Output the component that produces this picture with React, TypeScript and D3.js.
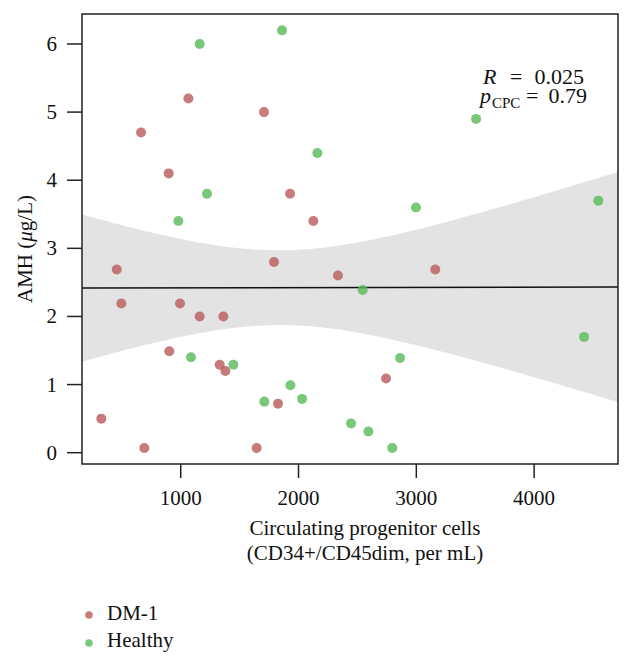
import React from "react";
import * as d3 from "d3";

const dmX = [1065, 1707, 663, 898, 1928, 2126, 457, 1792, 496, 994, 1161, 1362, 903, 1331, 1379, 1826, 326, 691, 1645, 2335, 3161, 2743];
const dmY = [5.2, 5.0, 4.7, 4.1, 3.8, 3.4, 2.69, 2.8, 2.19, 2.19, 2.0, 2.0, 1.49, 1.29, 1.2, 0.72, 0.5, 0.07, 0.07, 2.6, 2.69, 1.09];
const hX = [1161, 1860, 1223, 980, 2160, 3507, 2997, 4545, 1087, 1447, 1931, 1710, 2030, 2545, 4424, 2862, 2446, 2593, 2796];
const hY = [6.0, 6.2, 3.8, 3.4, 4.4, 4.9, 3.6, 3.7, 1.4, 1.29, 0.99, 0.75, 0.79, 2.39, 1.7, 1.39, 0.43, 0.31, 0.07];
const xTicks = [1000, 2000, 3000, 4000];
const yTicks = [0, 1, 2, 3, 4, 5, 6];
const groups = ["DM-1", "Healthy"];
const colors = ["#b95a5a", "#58b958"];

const W = 633, H = 666;
const L = 82, R = 618, T = 14, B = 464;
const FONT = "'Liberation Serif', 'DejaVu Serif', serif";

export default function App() {
  const x = d3.scaleLinear().domain([162, 4712]).range([L, R]);
  const y = d3.scaleLinear().domain([-0.166, 6.44]).range([B, T]);

  const allX = [...dmX, ...hX];
  const allY = [...dmY, ...hY];
  const n = allX.length;
  const mx = d3.mean(allX)!;
  const my = d3.mean(allY)!;
  let sxx = 0, sxy = 0;
  for (let i = 0; i < n; i++) {
    sxx += (allX[i] - mx) ** 2;
    sxy += (allX[i] - mx) * (allY[i] - my);
  }
  const slope = sxy / sxx;
  const icpt = my - slope * mx;
  let sse = 0;
  for (let i = 0; i < n; i++) sse += (allY[i] - (icpt + slope * allX[i])) ** 2;
  const s = Math.sqrt(sse / (n - 2));
  const t = 2.0227;
  const grid = d3.range(0, 101).map((i) => 162 + (i / 100) * (4712 - 162));
  const band = grid.map((gx) => {
    const yh = icpt + slope * gx;
    const hw = t * s * Math.sqrt(1 / n + (gx - mx) ** 2 / sxx);
    return { gx, lo: yh - hw, hi: yh + hw };
  });
  const area = d3
    .area<{ gx: number; lo: number; hi: number }>()
    .x((d) => x(d.gx))
    .y0((d) => y(d.lo))
    .y1((d) => y(d.hi))
    .curve(d3.curveLinear);

  const pts = [
    ...dmX.map((v, i) => ({ x: v, y: dmY[i], g: 0 })),
    ...hX.map((v, i) => ({ x: v, y: hY[i], g: 1 })),
  ];

  return (
    <svg width={W} height={H} style={{ position: "absolute", left: 0, top: 0, background: "#fff" }} fontFamily={FONT}>
      <defs>
        <clipPath id="plotclip">
          <rect x={L} y={T} width={R - L} height={B - T} />
        </clipPath>
      </defs>
      <g clipPath="url(#plotclip)">
        <path d={area(band)!} fill="#e3e3e3" />
        <line x1={x(162)} x2={x(4712)} y1={y(icpt + slope * 162)} y2={y(icpt + slope * 4712)} stroke="#111" strokeWidth={1.5} />
        {pts.map((p, i) => (
          <circle key={i} cx={x(p.x)} cy={y(p.y)} r={5} fill={colors[p.g]} fillOpacity={0.8} />
        ))}
      </g>
      <rect x={L} y={T} width={R - L} height={B - T} fill="none" stroke="#222" strokeWidth={1.5} />
      {yTicks.map((v) => (
        <g key={v}>
          <line x1={L - 15} x2={L} y1={y(v)} y2={y(v)} stroke="#222" strokeWidth={1.5} />
          <text x={57} y={y(v) + 7} textAnchor="end" fontSize={21} fill="#111">{v}</text>
        </g>
      ))}
      {xTicks.map((v) => (
        <g key={v}>
          <line x1={x(v)} x2={x(v)} y1={B} y2={B + 14} stroke="#222" strokeWidth={1.5} />
          <text x={x(v)} y={505} textAnchor="middle" fontSize={21} fill="#111">{v}</text>
        </g>
      ))}
      <text transform={`translate(32,249) rotate(-90)`} textAnchor="middle" fontSize={21} fill="#111">
        AMH (<tspan fontStyle="italic">μ</tspan>g/L)
      </text>
      <text x={365} y={535} textAnchor="middle" fontSize={21} fill="#111">Circulating progenitor cells</text>
      <text x={365} y={560} textAnchor="middle" fontSize={21} fill="#111">(CD34+/CD45dim, per mL)</text>
      <text x={483} y={84} fontSize={22} fill="#111" fontStyle="italic">R</text>
      <text x={510} y={84} fontSize={22} fill="#111">=</text>
      <text x={584} y={84} fontSize={22} fill="#111" textAnchor="end">0.025</text>
      <text x={480} y={103} fontSize={22} fill="#111" fontStyle="italic">p</text>
      <text x={492} y={108} fontSize={15} fill="#111">CPC</text>
      <text x={526} y={103} fontSize={22} fill="#111">=</text>
      <text x={587} y={103} fontSize={22} fill="#111" textAnchor="end">0.79</text>
      {groups.map((g, i) => (
        <g key={g}>
          <circle cx={89} cy={615 + i * 28} r={3.8} fill={colors[i]} fillOpacity={0.8} />
          <text x={107} y={620 + i * 27} fontSize={21} fill="#111">{g}</text>
        </g>
      ))}
    </svg>
  );
}
